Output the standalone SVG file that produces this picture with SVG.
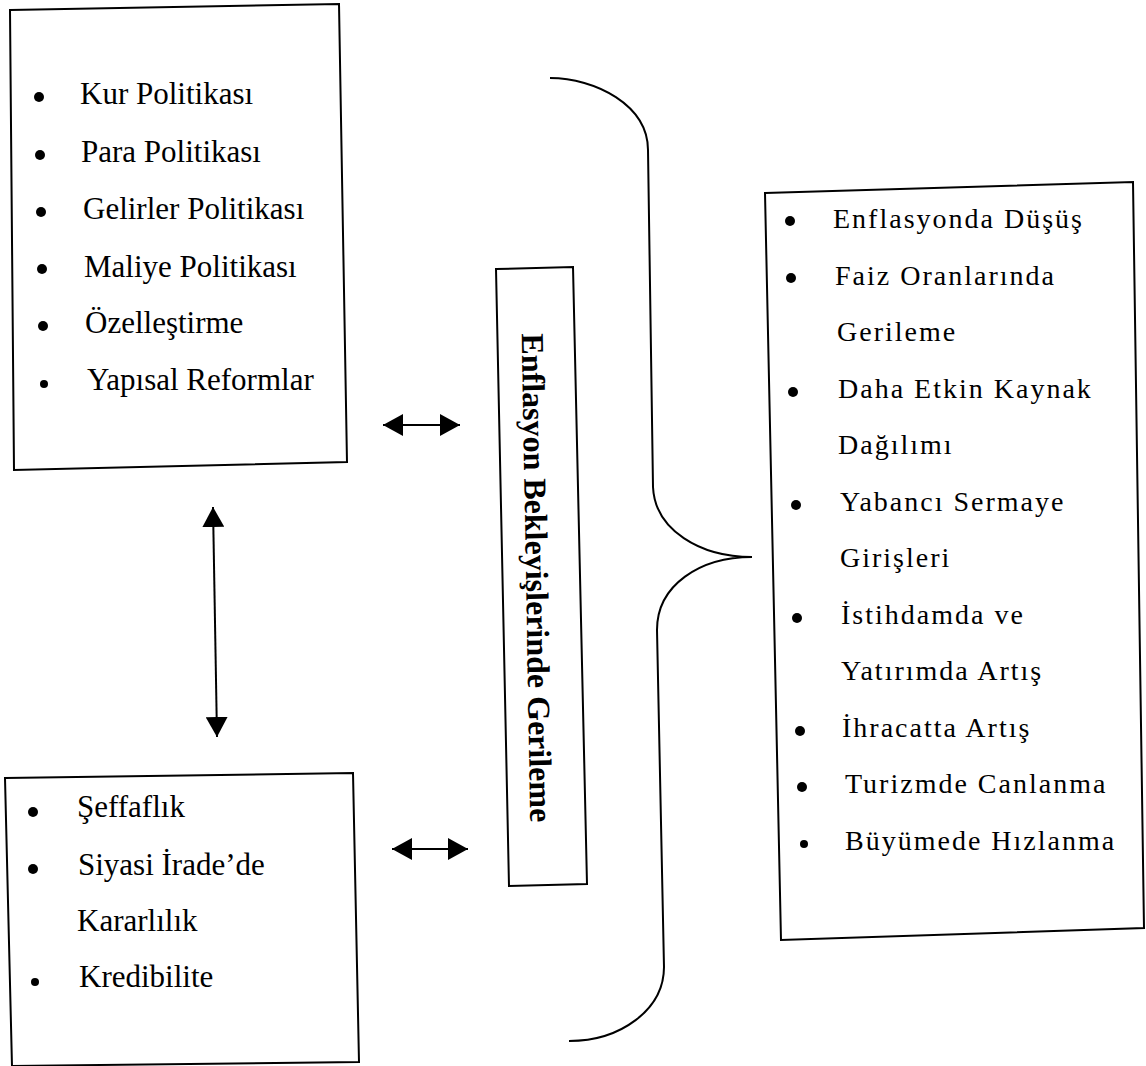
<svg xmlns="http://www.w3.org/2000/svg" width="1146" height="1066" viewBox="0 0 1146 1066">
<style>
.box{fill:none;stroke:#000;stroke-width:2}
.t{font-family:"Liberation Serif","Times New Roman",serif;font-size:31px;fill:#000}
.tr{font-family:"Liberation Serif","Times New Roman",serif;font-size:28px;letter-spacing:2px;fill:#000}
.tc{font-family:"Liberation Serif","Times New Roman",serif;font-size:32px;font-weight:bold;fill:#000}
.b{fill:#000}
.c{fill:none;stroke:#000;stroke-width:2}
</style>
<defs>
<marker id="ah" markerUnits="userSpaceOnUse" markerWidth="22" markerHeight="22" refX="20" refY="11" orient="auto-start-reverse" viewBox="0 0 22 22">
<path d="M0,0 L20,11 L0,22 z" fill="#000"/>
</marker>
</defs>
<rect width="1146" height="1066" fill="#fff"/>
<g id="node-policies">
<polygon class="box" points="10,10 339,4 347,462 14,470"/>
<circle class="b" cx="39" cy="97" r="5"/><text class="t" x="80" y="104">Kur Politikası</text>
<circle class="b" cx="40" cy="155" r="5"/><text class="t" x="81" y="162">Para Politikası</text>
<circle class="b" cx="41" cy="212" r="5"/><text class="t" x="83" y="219">Gelirler Politikası</text>
<circle class="b" cx="42" cy="269" r="5"/><text class="t" x="84" y="277">Maliye Politikası</text>
<circle class="b" cx="43" cy="326" r="5"/><text class="t" x="85" y="333">Özelleştirme</text>
<circle class="b" cx="44" cy="384" r="4"/><text class="t" x="87" y="390">Yapısal Reformlar</text>
</g>
<g id="node-credibility">
<polygon class="box" points="5,778 353,773 359,1062 12,1066"/>
<circle class="b" cx="33" cy="812" r="5"/><text class="t" x="77" y="817">Şeffaflık</text>
<circle class="b" cx="33" cy="869" r="5"/><text class="t" x="78" y="875">Siyasi İrade’de</text>
<text class="t" x="77" y="931">Kararlılık</text>
<circle class="b" cx="35" cy="982" r="4"/><text class="t" x="79" y="987">Kredibilite</text>
</g>
<g id="node-center">
<polygon class="box" points="496,269 573,267 587,884 509,886"/>
<text class="tc" text-anchor="middle" transform="translate(526,578) rotate(89)">Enflasyon Bekleyişlerinde Gerileme</text>
</g>
<g id="node-results">
<polygon class="box" points="765,193 1133,182 1144,928 781,940"/>
<circle class="b" cx="790" cy="221" r="5"/><text class="tr" x="833" y="228">Enflasyonda Düşüş</text>
<circle class="b" cx="791" cy="278" r="5"/><text class="tr" x="835" y="285">Faiz Oranlarında</text>
<text class="tr" x="837" y="341">Gerileme</text>
<circle class="b" cx="793" cy="392" r="5"/><text class="tr" x="838" y="398">Daha Etkin Kaynak</text>
<text class="tr" x="838" y="454">Dağılımı</text>
<circle class="b" cx="796" cy="505" r="5"/><text class="tr" x="840" y="511">Yabancı Sermaye</text>
<text class="tr" x="840" y="567">Girişleri</text>
<circle class="b" cx="797" cy="618" r="5"/><text class="tr" x="841" y="624">İstihdamda ve</text>
<text class="tr" x="841" y="680">Yatırımda Artış</text>
<circle class="b" cx="800" cy="731" r="5"/><text class="tr" x="842" y="737">İhracatta Artış</text>
<circle class="b" cx="802" cy="787" r="5"/><text class="tr" x="845" y="793">Turizmde Canlanma</text>
<circle class="b" cx="804" cy="844" r="4"/><text class="tr" x="845" y="850">Büyümede Hızlanma</text>
</g>
<g id="connectors">
<line class="c" x1="383" y1="425" x2="460" y2="425" marker-start="url(#ah)" marker-end="url(#ah)"/>
<line class="c" x1="392" y1="849" x2="468" y2="849" marker-start="url(#ah)" marker-end="url(#ah)"/>
<line class="c" x1="213" y1="507" x2="217" y2="737" marker-start="url(#ah)" marker-end="url(#ah)"/>
<path class="c" d="M550,78 C595,78 648,105 648,150 L653,487 C655,530 700,557 752,557 C700,557 657,585 657,630 L664,967 C664,1010 620,1041 569,1041"/>
</g>
</svg>
